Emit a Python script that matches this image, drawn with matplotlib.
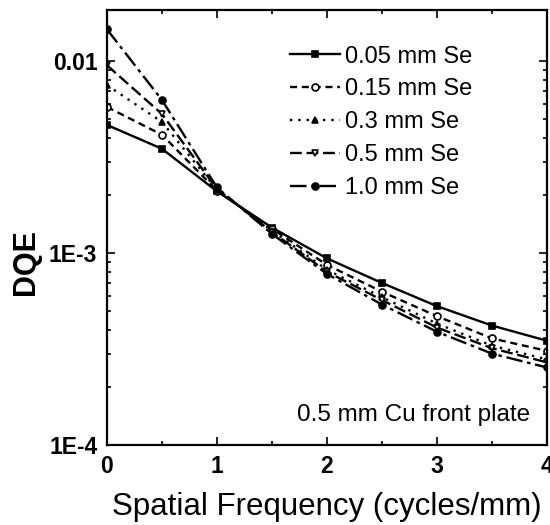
import numpy as np
import matplotlib.pyplot as plt

plt.rcParams['font.family'] = ['Liberation Sans', 'DejaVu Sans']

freq = [0, 0.5, 1, 1.5, 2, 2.5, 3, 3.5, 4]
labels = ['0.05 mm Se', '0.15 mm Se', '0.3 mm Se', '0.5 mm Se', '1.0 mm Se']

dqe_005 = [0.00466, 0.00350, 0.00210, 0.00136, 0.00094, 0.00070, 0.00053, 0.00042, 0.00035]
dqe_015 = [0.00578, 0.00414, 0.00212, 0.00134, 0.00087, 0.00063, 0.00047, 0.00036, 0.00031]
dqe_03 = [0.00750, 0.00483, 0.00214, 0.00131, 0.00082, 0.00059, 0.00043, 0.00033, 0.00028]
dqe_05 = [0.00953, 0.00531, 0.00216, 0.00129, 0.00080, 0.00057, 0.00041, 0.00032, 0.00027]
dqe_10 = [0.01466, 0.00628, 0.00220, 0.00126, 0.00078, 0.00054, 0.00039, 0.00030, 0.000254]

series = [dqe_005, dqe_015, dqe_03, dqe_05, dqe_10]
styles = [
    dict(linestyle='-', marker='s', mfc='black'),
    dict(linestyle=(0, (3, 2)), marker='o', mfc='white'),
    dict(linestyle=(0, (1, 2.5)), marker='^', mfc='black'),
    dict(linestyle=(0, (5, 2)), marker='v', mfc='white'),
    dict(linestyle=(0, (7, 2, 1.5, 2)), marker='o', mfc='black'),
]

fig = plt.figure(figsize=(5.5, 5.25), dpi=100)
ax = fig.add_axes([0.1945, 0.152, 0.80, 0.829])

for y, lab, st in zip(series, labels, styles):
    ax.plot(freq, y, color='black', linewidth=1.7, markersize=5,
            markeredgecolor='black', markeredgewidth=1.2, label=lab, **st)

ax.set_yscale('log')
ax.set_xlim(0, 4)
ax.set_ylim(1e-4, 0.0185)
ax.set_xticks([0, 1, 2, 3, 4])
ax.set_xticks(np.arange(0, 4.01, 0.5), minor=True)
ax.set_yticks([1e-4, 1e-3, 1e-2])
ax.set_yticklabels(['1E-4', '1E-3', '0.01'])
ax.set_xticklabels(['0', '1', '2', '3', '4'])
ax.tick_params(which='both', direction='in', top=True, right=True, width=1.2)
ax.tick_params(which='major', length=6, labelsize=16.5, pad=7)
ax.tick_params(which='minor', length=3)
for t in ax.get_xticklabels() + ax.get_yticklabels():
    t.set_fontweight('bold')
for s in ax.spines.values():
    s.set_linewidth(1.6)

ax.set_xlabel('Spatial Frequency (cycles/mm)', fontsize=22.5, labelpad=10)
ax.set_ylabel('DQE', fontsize=22, fontweight='bold')
ax.yaxis.set_label_coords(-0.15, 0.42)

ax.legend(loc='upper left', bbox_to_anchor=(0.395, 0.94), frameon=False,
          fontsize=17, handlelength=2.1, handletextpad=0.2, labelspacing=0.46,
          borderaxespad=0)
ax.text(0.961, 0.069, '0.5 mm Cu front plate', transform=ax.transAxes,
        ha='right', va='center', fontsize=17.5)

fig.savefig('out.png', dpi=100)
